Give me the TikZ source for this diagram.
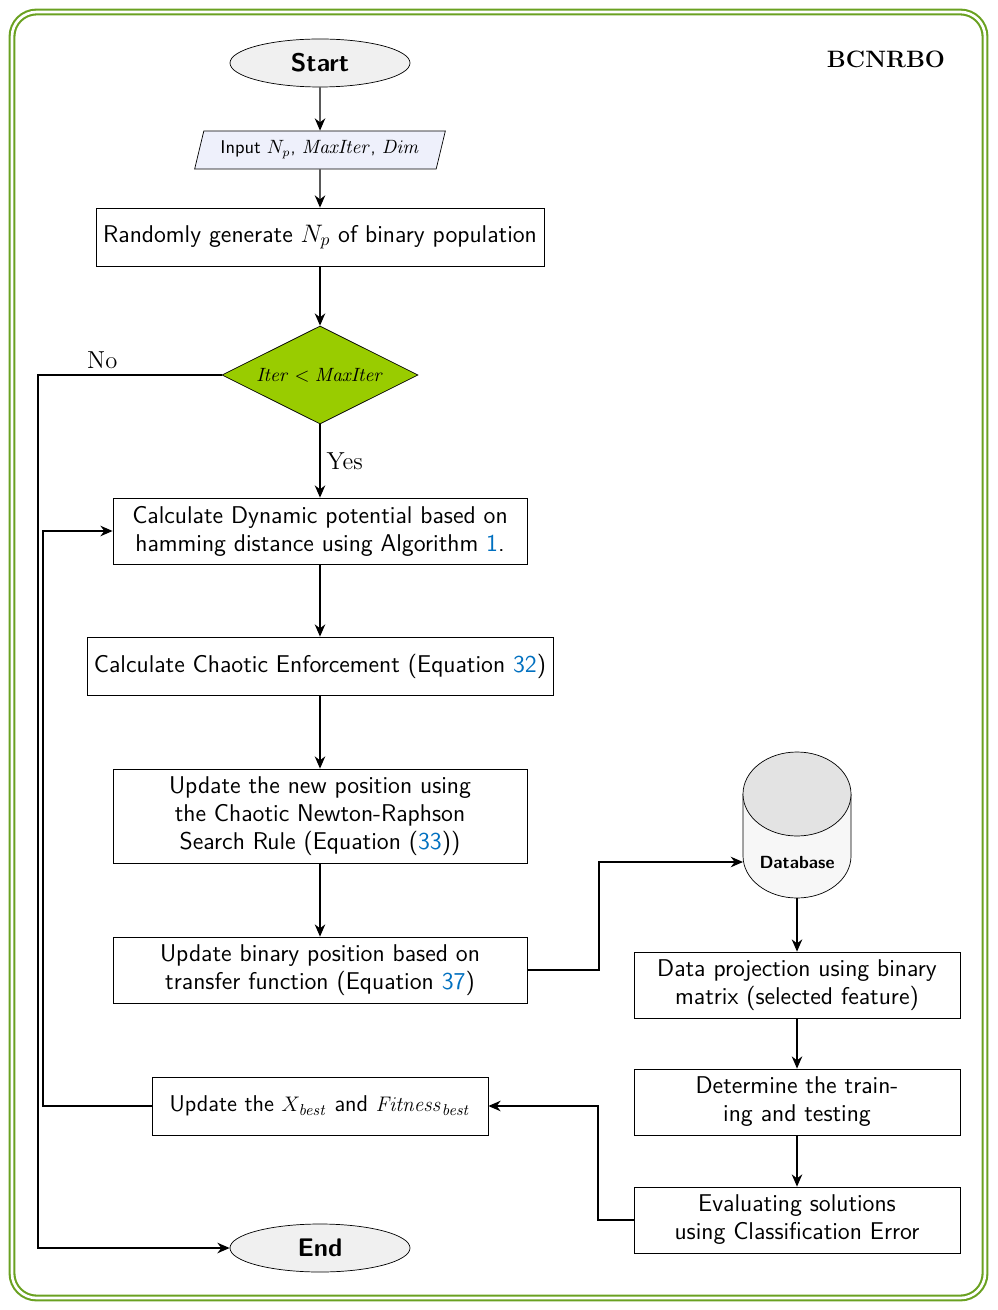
\documentclass[tikz,border=0pt]{standalone}
\usepackage{tikz}
\usetikzlibrary{shapes.geometric,arrows.meta,positioning}
\definecolor{frame_green}{HTML}{6AA121}
\definecolor{dia_green}{HTML}{99CC00}
\definecolor{input_blue}{HTML}{EEF0FB}
\definecolor{ref_blue}{HTML}{0070C0}
\tikzset{
  box/.style={draw, rectangle, fill=white, align=center, font=\sffamily\fontsize{13.8}{16}\selectfont, inner sep=0pt},
  term/.style={draw, ellipse, fill=gray!12, minimum width=180*0.02cm, minimum height=48*0.02cm, font=\sffamily\bfseries\fontsize{14.5}{16}\selectfont},
  arr/.style={-{Stealth[length=7pt,width=6pt]}, thick},
}
\newcommand{\rf}[1]{\textcolor{ref_blue}{#1}}
\begin{document}
\begin{tikzpicture}[x=0.02cm,y=-0.02cm]
        \useasboundingbox (0,0) rectangle (997,1310);
        % Cadre
        \draw[frame_green, very thick, double=white, double distance=1.5pt, rounded corners=14pt] (12,12) rectangle (985,1298);
        \node[font=\bfseries\fontsize{13.5}{15}\selectfont] (title) at (886,59) {BCNRBO};

        % Noeuds principaux
        \node[term] (start) at (320,63) {Start};
        \node[draw, trapezium, trapezium left angle=70, trapezium right angle=110, trapezium stretches=true, fill=input_blue, minimum width=251*0.02cm, minimum height=38*0.02cm, font=\sffamily\fontsize{10.5}{12}\selectfont, inner sep=1pt] (input) at (320,150) {Input $N_p$, $\mathit{MaxIter}$, $\mathit{Dim}$};
        \node[box, minimum width=448*0.02cm, minimum height=58*0.02cm] (init) at (320,237) {Randomly generate $N_p$ of binary population};
        \node[draw, diamond, fill=dia_green, minimum width=196*0.02cm, minimum height=98*0.02cm, aspect=2, inner sep=0pt, font=\fontsize{11}{12}\selectfont] (cond) at (320,375) {$\mathit{Iter} < \mathit{MaxIter}$};
        \node[box, minimum width=414*0.02cm, minimum height=66*0.02cm] (dyn) at (320,531) {Calculate Dynamic potential based on\\hamming distance using Algorithm \rf{1}.};
        \node[box, minimum width=466*0.02cm, minimum height=58*0.02cm] (chaos) at (320,666) {Calculate Chaotic Enforcement (Equation \rf{32})};
        \node[box, minimum width=414*0.02cm, minimum height=94*0.02cm] (newpos) at (320,816) {Update the new position using\\the Chaotic Newton-Raphson\\Search Rule (Equation (\rf{33}))};
        \node[box, minimum width=414*0.02cm, minimum height=66*0.02cm] (binpos) at (320,970) {Update binary position based on\\transfer function (Equation \rf{37})};
        \node[box, minimum width=336*0.02cm, minimum height=58*0.02cm, font=\sffamily\fontsize{13}{15}\selectfont] (best) at (320,1106) {Update the $X_{\mathit{best}}$ and $\mathit{Fitness}_{\mathit{best}}$};
        \node[term] (end) at (320,1248) {End};

        % Base de donnees
        \draw[fill=gray!6] (743,794) -- (743,856) arc[start angle=180, end angle=360, x radius=54, y radius=-42] -- (851,794);
        \draw[fill=gray!22] (797,794) ellipse[x radius=54, y radius=42];
        \node[font=\sffamily\bfseries\fontsize{10}{11}\selectfont] (db) at (797,862) {Database};
        \coordinate (dbin) at (743,862);
        \coordinate (dbout) at (797,898);

        \node[box, minimum width=326*0.02cm, minimum height=66*0.02cm] (proj) at (797,985) {Data projection using binary\\matrix (selected feature)};
        \node[box, minimum width=326*0.02cm, minimum height=66*0.02cm] (train) at (797,1102) {Determine the train-\\ing and testing};
        \node[box, minimum width=326*0.02cm, minimum height=66*0.02cm] (eval) at (797,1220) {Evaluating solutions\\using Classification Error};

        % Fleches
        \draw[arr] (start) -- (input);
        \draw[arr] (input) -- (init);
        \draw[arr] (init) -- (cond);
        \draw[arr] (cond) -- node[right, font=\fontsize{14}{16}\selectfont] {Yes} (dyn);
        \draw[arr] (cond.west) -- node[above, pos=0.65, font=\fontsize{14}{16}\selectfont] {No} (38,375) -- (38,1248) -- (end.west);
        \draw[arr] (dyn) -- (chaos);
        \draw[arr] (chaos) -- (newpos);
        \draw[arr] (newpos) -- (binpos);
        \draw[arr] (best.west) -- (43,1106) -- (43,531) -- (dyn.west);
        \draw[arr] (binpos.east) -- (599,970) -- (599,862) -- (dbin);
        \draw[arr] (dbout) -- (proj);
        \draw[arr] (proj) -- (train);
        \draw[arr] (train) -- (eval);
        \draw[arr] (eval.west) -- (598,1220) -- (598,1106) -- (best.east);
\end{tikzpicture}
\end{document}
